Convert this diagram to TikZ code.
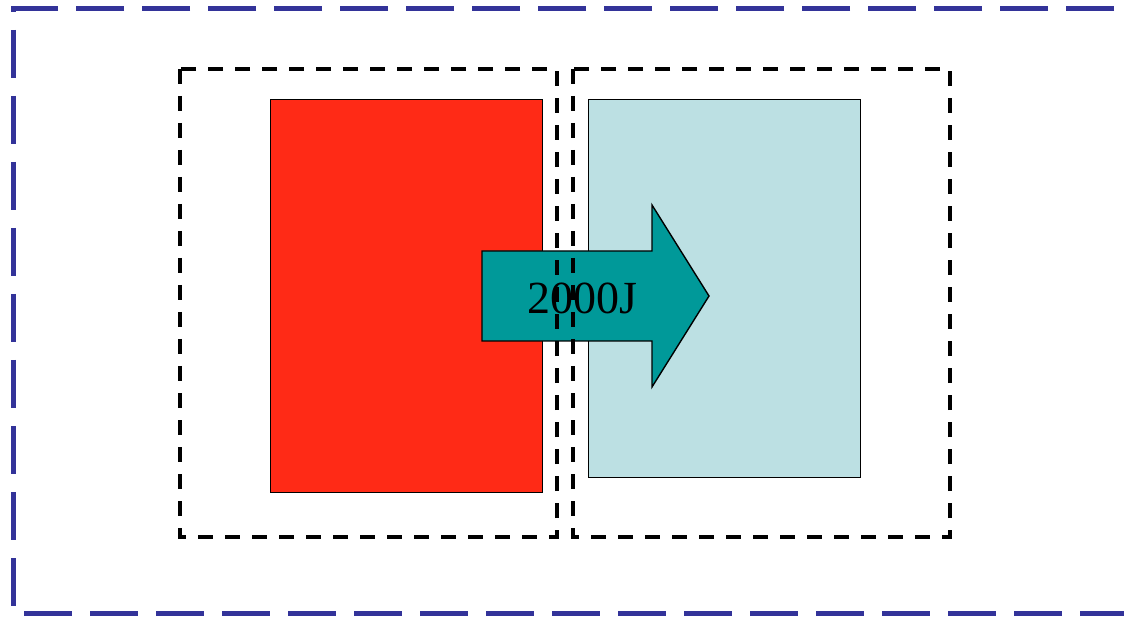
\documentclass[tikz,border=0pt]{standalone}
\usepackage{fontspec}
\setmainfont{Liberation Serif}
\usetikzlibrary{positioning}
\definecolor{framecol}{HTML}{333399}
\definecolor{hotcol}{HTML}{FF2A16}
\definecolor{coldcol}{HTML}{BCE0E3}
\definecolor{flowcol}{HTML}{009999}
\tikzset{
  sysframe/.style={draw=framecol,line width=5pt,dash pattern=on 48pt off 18pt},
  subframe/.style={draw=black,line width=3.2pt,dash pattern=on 15pt off 12pt},
  body/.style={draw=black,line width=1.4pt,minimum width=272pt,inner sep=0pt,anchor=north west},
  flow/.style={draw=black,line width=1.4pt,fill=flowcol}
}
\begin{document}
\begin{tikzpicture}[x=1pt,y=-1pt]
\useasboundingbox (0,0) rectangle (1124,617);
\fill[white] (0,0) rectangle (1124,617);
% outer system boundary (runs off the right edge)
\draw[sysframe] (1180,9) -- (13,9) -- (13,613) -- (1180,613);
% the two bodies
\node[body, fill=hotcol, minimum height=393pt] (hot) at (270,99) {};
\node[body, fill=coldcol, minimum height=378pt] (cold) at (588,99) {};
% heat flow arrow
\draw[flow] (482,251) -- (652,251) -- (652,205) -- (709,296)
  -- (652,387) -- (652,341) -- (482,341) -- cycle;
\node[font=\fontsize{46}{50}\selectfont, inner sep=0pt] (heat) at (582,298) {2000J};
% subsystem boundaries
\draw[subframe] (180,69) rectangle (557,537);
\draw[subframe] (573,69) rectangle (950,537);
\end{tikzpicture}
\end{document}
